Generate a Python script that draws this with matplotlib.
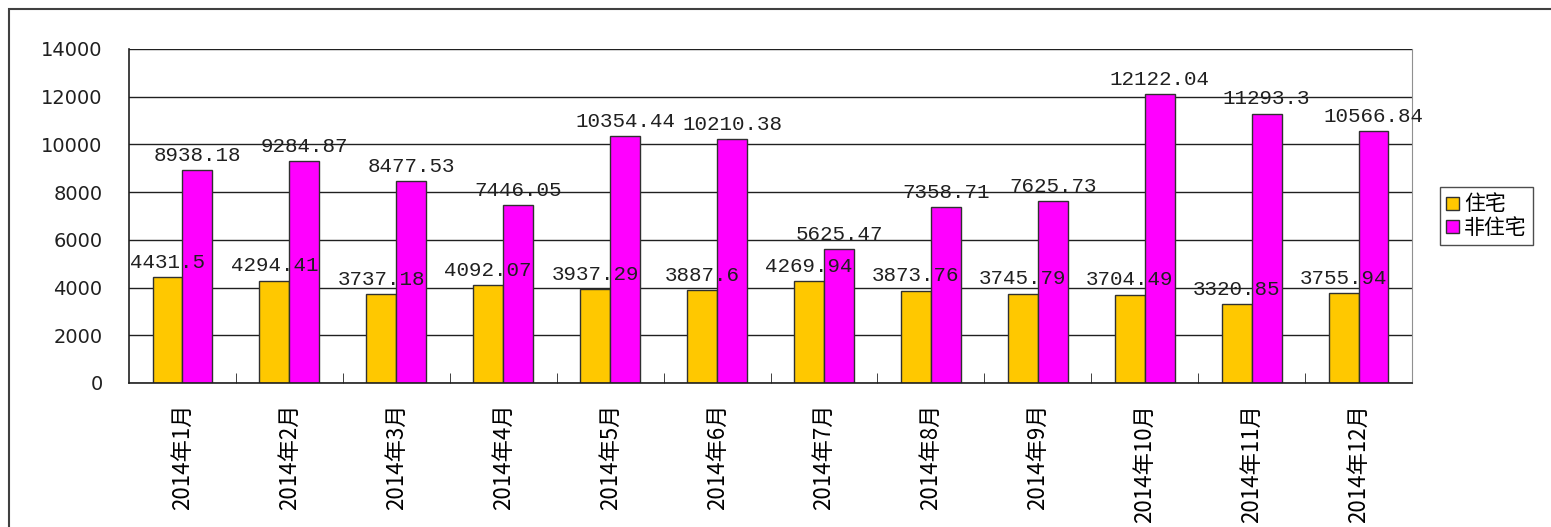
import numpy as np
import matplotlib
matplotlib.use("Agg")
from matplotlib import pyplot as plt
from matplotlib.patches import Rectangle

plt.rcParams["font.family"] = ["Noto Sans CJK SC", "DejaVu Sans"]

# data
months = [f"2014年{m}月" for m in range(1, 13)]
residential = [4431.5, 4294.41, 3737.18, 4092.07, 3937.29, 3887.6,
               4269.94, 3873.76, 3745.79, 3704.49, 3320.85, 3755.94]
non_residential = [8938.18, 9284.87, 8477.53, 7446.05, 10354.44, 10210.38,
                   5625.47, 7358.71, 7625.73, 12122.04, 11293.3, 10566.84]
res_labels = ["4431.5", "4294.41", "3737.18", "4092.07", "3937.29", "3887.6",
              "4269.94", "3873.76", "3745.79", "3704.49", "3320.85", "3755.94"]
non_labels = ["8938.18", "9284.87", "8477.53", "7446.05", "10354.44", "10210.38",
              "5625.47", "7358.71", "7625.73", "12122.04", "11293.3", "10566.84"]
series_names = ["住宅", "非住宅"]

GOLD = "#ffc800"
MAGENTA = "#ff00ff"

fig = plt.figure(figsize=(15.51, 5.27), dpi=100)
# outer chart frame
fig.patches.append(Rectangle((9 / 1551, -0.05), 1.1, 1 - 9 / 527 + 0.05,
                             transform=fig.transFigure, fill=False,
                             edgecolor="#404040", lw=1.5))
ax = fig.add_axes([129 / 1551, 1 - 383 / 527, (1412 - 129) / 1551, (383 - 49) / 527])

x = np.arange(len(months))
w = 0.28
ax.bar(x - w / 2, residential, w, color=GOLD, edgecolor="#303030", lw=1,
       label=series_names[0], zorder=2)
ax.bar(x + w / 2, non_residential, w, color=MAGENTA, edgecolor="#303030", lw=1,
       label=series_names[1], zorder=2)

for xi, v, s in zip(x, residential, res_labels):
    ax.text(xi - w / 2, v + 220, s, ha="center", va="bottom", fontsize=15,
            family="Liberation Mono", color="#202020", zorder=5)
for xi, v, s in zip(x, non_residential, non_labels):
    ax.text(xi + w / 2, v + 220, s, ha="center", va="bottom", fontsize=15,
            family="Liberation Mono", color="#202020", zorder=5)

ax.set_xlim(-0.5, len(months) - 0.5)
ax.set_ylim(0, 14000)
ax.set_yticks(range(0, 14001, 2000))
ax.yaxis.grid(True, color="#202020", lw=1)
ax.set_axisbelow(True)
ax.tick_params(axis="y", length=0, labelsize=14, pad=19, colors="#202020")
for t in ax.get_yticklabels():
    t.set_family("DejaVu Sans")
ax.set_xticks(x)
ax.set_xticklabels(months, rotation=90, fontsize=16)
ax.tick_params(axis="x", length=0, pad=15)
ax.set_xticks(np.arange(0.5, len(months) - 0.5), minor=True)
ax.tick_params(axis="x", which="minor", direction="in", length=7, color="#202020")
for side in ("left", "bottom"):
    ax.spines[side].set_color("#202020")
    ax.spines[side].set_linewidth(1.2)
ax.spines["right"].set_color("#909090")
ax.spines["top"].set_visible(False)

leg = ax.legend(loc="center left", bbox_to_anchor=(1.022, 0.5),
                prop={"family": ["Noto Sans CJK SC"], "size": 15},
                frameon=True, fancybox=False, edgecolor="#202020",
                handlelength=0.6, handleheight=0.6, handletextpad=0.25,
                borderpad=0.3, labelspacing=0.05, borderaxespad=0)
leg.get_frame().set_linewidth(1)

fig.savefig("out.png", dpi=100)
